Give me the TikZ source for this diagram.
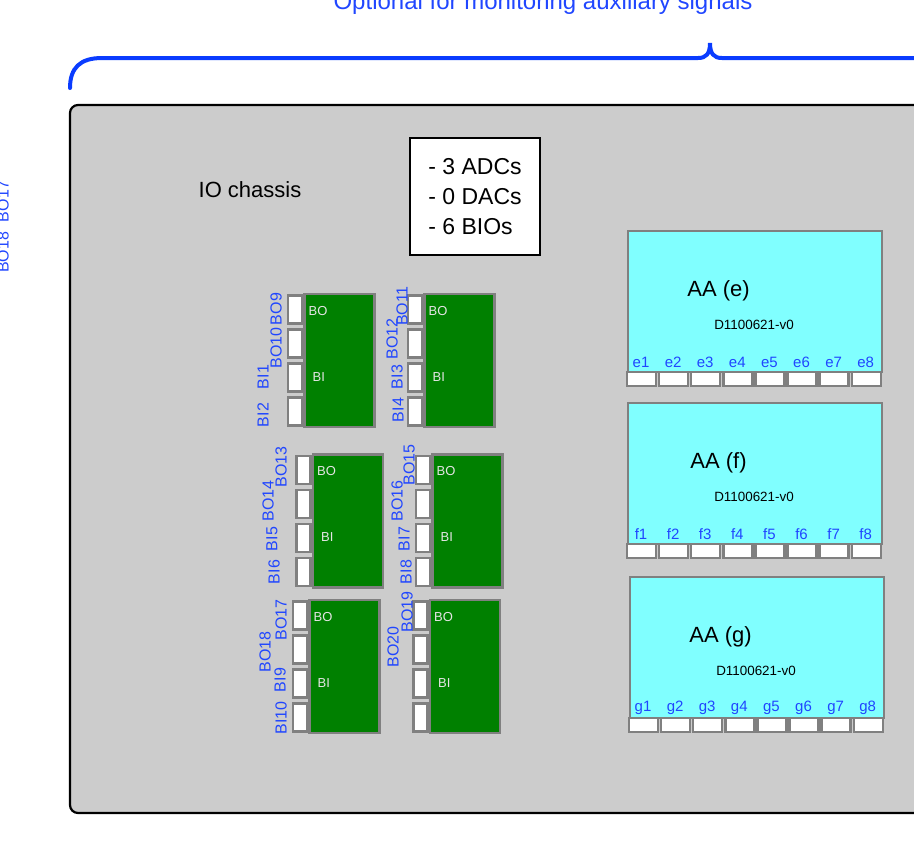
\documentclass[tikz,border=0pt]{standalone}
\usepackage{fontspec}
\setmainfont{Liberation Sans}
\usetikzlibrary{positioning, calc}
\definecolor{chassisgray}{HTML}{CCCCCC}
\definecolor{edgegray}{HTML}{808080}
\definecolor{biogreen}{HTML}{008000}
\definecolor{aacyan}{HTML}{80FFFF}
\definecolor{sigblue}{HTML}{2046FF}
\definecolor{bracecol}{HTML}{0A3CFF}

\begin{document}
\begin{tikzpicture}[
    x=0.5pt, y=-0.5pt,
    chassis/.style={fill=chassisgray, draw=black, line width=1.1pt, rounded corners=4pt},
    infobox/.style={draw, fill=white, line width=1pt, minimum width=65pt, minimum height=58.5pt, align=left, font=\fontsize{11.5}{15}\selectfont},
    card/.style={draw=edgegray, fill=biogreen, line width=1.2pt, minimum width=35pt, minimum height=66.5pt, inner sep=0pt},
    pin/.style={draw=edgegray, fill=white, line width=1.2pt, minimum width=7pt, minimum height=14pt, inner sep=0pt},
    cardtxt/.style={text=white!90!black, font=\fontsize{6.5}{7}\selectfont, inner sep=0pt, anchor=west},
    sig/.style={text=sigblue, font=\fontsize{8}{9}\selectfont, rotate=90, inner sep=0pt},
    aabox/.style={draw=edgegray, fill=aacyan, line width=1.2pt, minimum width=127pt, minimum height=70.5pt, inner sep=0pt},
    aapin/.style={draw=edgegray, fill=white, line width=1.2pt, minimum width=14.5pt, minimum height=7pt, inner sep=0pt},
    chan/.style={text=sigblue, font=\fontsize{7.5}{8}\selectfont, inner sep=0pt},
]

\clip (0,0) rectangle (914,858);

\node[text=sigblue, font=\fontsize{12}{14}\selectfont, anchor=base] (optlabel) at (543,9) {Optional for monitoring auxiliary signals};
\draw[bracecol, line width=2pt, line cap=round] (70,88) .. controls (70,68) and (80,58) .. (102,58) -- (698,58)
    .. controls (706,58) and (710,54) .. (710,43) .. controls (710,54) and (714,58) .. (722,58) -- (1350,58);

\node[sig] (BO18BO17) at (3,227) {BO18\hspace{5pt}BO17};

\draw[chassis] (70,105) rectangle (1400,813);

\node[font=\fontsize{11}{13}\selectfont] (iolabel) at (250,190) {IO chassis};
\node[infobox] (counts) at (475,196.5) {- 3 ADCs\\- 0 DACs\\- 6 BIOs};

\foreach \m/\cx/\cy in {1/339.5/360.5, 2/459.5/360.5, 3/348/521, 4/467.5/521, 5/344.5/666.5, 6/465/666.5} {
    \node[card] (card\m) at (\cx,\cy) {};
    \foreach \k/\dy in {1/-51, 2/-17, 3/17, 4/51}
        \node[pin, anchor=east] (card\m-p\k) at ($(card\m.west)+(0,\dy)$) {};
    \node[cardtxt] (card\m-bo) at ($(card\m.north west)+(5,18)$) {BO};
    \node[cardtxt] (card\m-bi) at ($(card\m.north west)+(9,84)$) {BI};
}

\foreach \s/\x/\y in {BO9/276/309, BO10/276/348, BI1/263/377, BI2/263/415,
    BO11/402/306, BO12/392/339, BI3/397/377, BI4/398/410,
    BO13/281/467, BO14/268/501, BI5/272/539, BI6/274/572,
    BO15/409/465, BO16/397/501, BI7/404/539, BI8/406/572,
    BO17/281/620, BO18/265/652, BI9/280/680, BI10/281/718,
    BO19/407/612, BO20/393/647} {
    \node[sig] (\s) at (\x,\y) {\s};
}

\foreach \t/\X/\Y in {e/627/230, f/627/402, g/629/576} {
    \node[aabox, anchor=north west] (aa\t) at (\X,\Y) {};
    \node[font=\fontsize{11}{13}\selectfont] (aa\t-name) at (\X+91.5,\Y+61) {AA (\t)};
    \node[font=\fontsize{6.7}{8}\selectfont] (aa\t-doc) at (\X+127,\Y+95) {D1100621-v0};
    \foreach \i in {1,...,8} {
        \node[aapin] (aa\t-p\i) at (\X+14.5+32.1*\i-32.1,\Y+149) {};
        \node[chan] (aa\t-c\i) at (\X+14+32.1*\i-32.1,\Y+132) {\t\i};
    }
}

\end{tikzpicture}
\end{document}
